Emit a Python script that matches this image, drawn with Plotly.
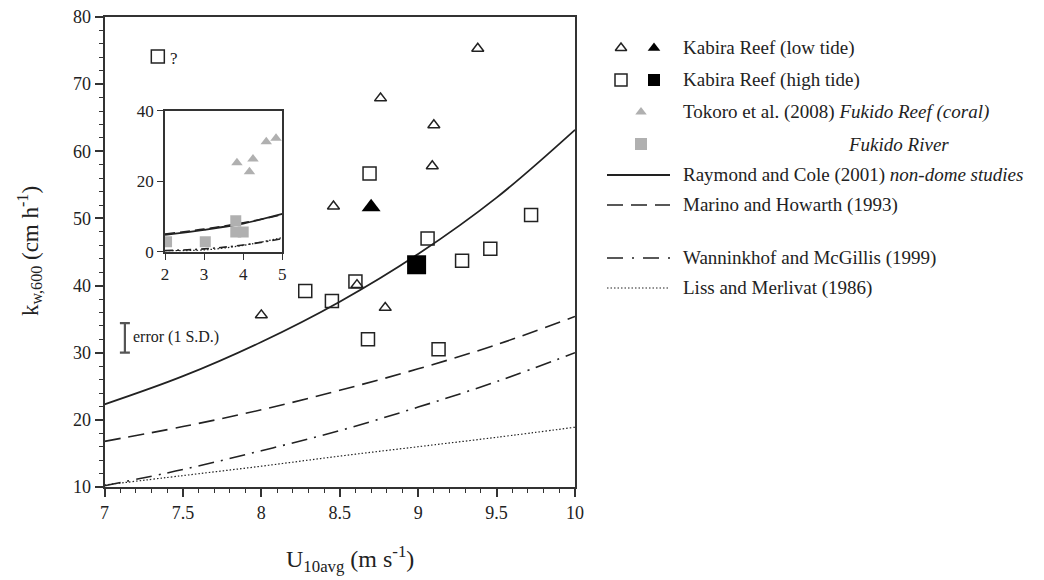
import plotly.graph_objects as go

# ---------------- data ----------------
low_u = [8.00, 8.46, 8.76, 9.38, 9.10, 9.09, 8.61, 8.79]
low_k = [35.6, 51.8, 67.9, 75.3, 63.9, 57.8, 40.1, 36.7]
low_avg_u = [8.70]
low_avg_k = [51.7]

high_u = [7.34, 8.69, 9.72, 9.06, 9.46, 9.28, 8.28, 8.60, 8.45, 8.68, 9.13]
high_k = [74.1, 56.7, 50.5, 47.0, 45.5, 43.7, 39.2, 40.6, 37.7, 32.0, 30.5]
high_avg_u = [8.99]
high_avg_k = [43.1]

u_curve = [7.0, 7.5, 8.0, 8.5, 9.0, 9.5, 10.0]
raymond = [22.3, 26.5, 31.6, 37.6, 44.7, 53.1, 63.2]
marino = [16.8, 19.0, 21.5, 24.4, 27.6, 31.2, 35.4]
wanninkhof = [10.2, 12.6, 15.4, 18.4, 21.9, 25.7, 30.0]
liss = [10.3, 11.7, 13.1, 14.6, 16.0, 17.4, 18.9]

# inset
reef_u = [3.84, 4.16, 4.25, 4.59, 4.84]
reef_k = [25.2, 22.7, 26.3, 31.2, 32.2]
river_u = [2.04, 3.03, 3.81, 3.81, 4.00]
river_k = [2.8, 2.8, 8.8, 5.6, 5.6]
u_inset = [2, 3, 4, 5]
raymond_in = [4.8, 6.2, 8.0, 10.7]
marino_in = [5.0, 6.4, 8.2, 10.5]
wanninkhof_in = [0.3, 0.8, 1.9, 3.7]
liss_in = [0.3, 0.5, 1.8, 4.0]

err_u = [7.13]
err_k = [32.2]
err_sd = [2.2]

x_ticks = [7, 7.5, 8, 8.5, 9, 9.5, 10]
x_ticklabels = ["7", "7.5", "8", "8.5", "9", "9.5", "10"]
y_ticks = [10, 20, 30, 40, 50, 60, 70, 80]
inset_xticks = [2, 3, 4, 5]
inset_yticks = [0, 20, 40]

legend_labels = [
    "Kabira Reef (low tide)",
    "Kabira Reef (high tide)",
    "Tokoro et al. (2008) <i>Fukido Reef (coral)</i>",
    "<i>Fukido River</i>",
    "Raymond and Cole (2001) <i>non-dome studies</i>",
    "Marino and Howarth (1993)",
    "Wanninkhof and McGillis (1999)",
    "Liss and Merlivat (1986)",
]

# ---------------- figure ----------------
W, H = 1044, 580
OFF = 8  # page body margin in the browser
FONT = "Liberation Serif"
INK = "#222222"
GRAY = "#b0b0b0"


def px(x):
    return (x - OFF) / W


def py(y):
    return 1 - (y - OFF) / H


fig = go.Figure()


def line_tr(x, y, dash, width, xa="x", ya="y"):
    return go.Scatter(x=x, y=y, mode="lines", line=dict(color=INK, width=width, dash=dash, shape="spline"),
                      xaxis=xa, yaxis=ya, showlegend=False, hoverinfo="skip")


# main curves
fig.add_trace(line_tr(u_curve, raymond, "solid", 1.8))
fig.add_trace(line_tr(u_curve, marino, "16px,8px", 1.6))
fig.add_trace(line_tr(u_curve, wanninkhof, "16px,7px,2px,7px", 1.6))
fig.add_trace(line_tr(u_curve, liss, "1.5px,2px", 1.2))

# main points
fig.add_trace(go.Scatter(x=low_u, y=low_k, mode="markers",
                         marker=dict(symbol="triangle-up-open", size=10.5, color=INK, line=dict(width=1.5, color=INK)),
                         showlegend=False))
fig.add_trace(go.Scatter(x=high_u, y=high_k, mode="markers",
                         marker=dict(symbol="square-open", size=13, color=INK, line=dict(width=1.5, color=INK)),
                         showlegend=False))
fig.add_trace(go.Scatter(x=low_avg_u, y=low_avg_k, mode="markers",
                         marker=dict(symbol="triangle-up", size=16.5, color="#000"), showlegend=False))
fig.add_trace(go.Scatter(x=high_avg_u, y=high_avg_k, mode="markers",
                         marker=dict(symbol="square", size=19, color="#000"), showlegend=False))

# error bar sample
fig.add_trace(go.Scatter(x=err_u, y=err_k, mode="markers", marker=dict(size=1, opacity=0),
                         error_y=dict(type="data", array=err_sd, visible=True, color="#555", thickness=2.2, width=5),
                         showlegend=False, hoverinfo="skip"))

# inset curves & points
fig.add_trace(line_tr(u_inset, raymond_in, "solid", 1.8, "x2", "y2"))
fig.add_trace(line_tr(u_inset, marino_in, "10px,5px", 1.6, "x2", "y2"))
fig.add_trace(line_tr(u_inset, wanninkhof_in, "8px,4px,2px,4px", 1.6, "x2", "y2"))
fig.add_trace(line_tr(u_inset, liss_in, "1.5px,2px", 1.2, "x2", "y2"))
fig.add_trace(go.Scatter(x=reef_u, y=reef_k, mode="markers", xaxis="x2", yaxis="y2",
                         marker=dict(symbol="triangle-up", size=10, color=GRAY), showlegend=False))
fig.add_trace(go.Scatter(x=river_u, y=river_k, mode="markers", xaxis="x2", yaxis="y2",
                         marker=dict(symbol="square", size=11, color=GRAY), showlegend=False))

# ---------------- legend (pixel overlay axis, screen coordinates) ----------------
row_y = [48, 80, 112, 144, 175, 205, 258, 288]
leg = dict(xaxis="x3", yaxis="y3", showlegend=False, hoverinfo="skip")
fig.add_trace(go.Scatter(x=[621], y=[row_y[0]], mode="markers",
                         marker=dict(symbol="triangle-up-open", size=10, color=INK, line=dict(width=1.5, color=INK)), **leg))
fig.add_trace(go.Scatter(x=[654], y=[row_y[0]], mode="markers",
                         marker=dict(symbol="triangle-up", size=11, color="#000"), **leg))
fig.add_trace(go.Scatter(x=[621], y=[row_y[1]], mode="markers",
                         marker=dict(symbol="square-open", size=12, color=INK, line=dict(width=1.5, color=INK)), **leg))
fig.add_trace(go.Scatter(x=[654], y=[row_y[1]], mode="markers",
                         marker=dict(symbol="square", size=12, color="#000"), **leg))
fig.add_trace(go.Scatter(x=[641], y=[row_y[2]], mode="markers",
                         marker=dict(symbol="triangle-up", size=10, color=GRAY), **leg))
fig.add_trace(go.Scatter(x=[641], y=[row_y[3]], mode="markers",
                         marker=dict(symbol="square", size=12, color=GRAY), **leg))
for ry, dash, w in [(row_y[4], "solid", 1.8), (row_y[5], "16px,8px", 1.6),
                    (row_y[6], "16px,9px,2px,9px", 1.6), (row_y[7], "1.5px,2px", 1.2)]:
    fig.add_trace(go.Scatter(x=[607, 670], y=[ry, ry], mode="lines",
                             line=dict(color=INK, width=w, dash=dash), **leg))

annotations = []
for i, (lab, ry) in enumerate(zip(legend_labels, row_y)):
    x0 = 846 if i == 3 else 681
    annotations.append(dict(x=px(x0), y=py(ry), xref="paper", yref="paper", text=lab, showarrow=False,
                            xanchor="left", yanchor="middle", font=dict(family=FONT, size=19, color=INK)))

annotations.append(dict(x=px(168), y=py(58), xref="paper", yref="paper", text="?", showarrow=False,
                        xanchor="left", yanchor="middle", font=dict(family=FONT, size=17, color=INK)))
annotations.append(dict(x=px(131), y=py(337), xref="paper", yref="paper", text="error (1 S.D.)", showarrow=False,
                        xanchor="left", yanchor="middle", font=dict(family=FONT, size=16, color=INK)))
annotations.append(dict(x=px(350), y=py(559), xref="paper", yref="paper", text="U<sub>10avg</sub> (m s<sup>-1</sup>)",
                        showarrow=False, xanchor="center", yanchor="middle",
                        font=dict(family=FONT, size=24, color=INK)))
annotations.append(dict(x=px(29), y=py(251), xref="paper", yref="paper", text="k<sub>w,600</sub> (cm h<sup>-1</sup>)",
                        showarrow=False, xanchor="center", yanchor="middle", textangle=-90,
                        font=dict(family=FONT, size=23, color=INK)))

axis_common = dict(showgrid=False, zeroline=False, showline=True, linecolor="#333", linewidth=1.8,
                   mirror=True, ticks="outside", tickcolor="#333", tickwidth=1.5, automargin=False,
                   ticklabeloverflow="allow",
                   tickfont=dict(family=FONT, size=18, color=INK))
inset_common = dict(showgrid=False, zeroline=False, showline=True, linecolor="#333", linewidth=1.8, mirror=True,
                    ticks="outside", ticklen=6, tickcolor="#333", tickwidth=1.3, automargin=False,
                    ticklabeloverflow="allow",
                    tickfont=dict(family=FONT, size=17, color=INK))

fig.update_layout(
    width=W, height=H,
    margin=dict(l=0, r=0, t=0, b=0, pad=0, autoexpand=False),
    paper_bgcolor="white", plot_bgcolor="rgba(0,0,0,0)",
    showlegend=False,
    annotations=annotations,
    xaxis=dict(**axis_common, domain=[px(104.5), px(575)], range=[7, 10],
               tickvals=x_ticks, ticktext=x_ticklabels, ticklen=8, anchor="y",
               minor=dict(dtick=0.1, ticklen=4, ticks="outside", tickcolor="#333", tickwidth=1.2)),
    yaxis=dict(**axis_common, domain=[py(487), py(17)], range=[10, 80],
               tickvals=y_ticks, ticklen=8, anchor="x",
               minor=dict(dtick=2, ticklen=4, ticks="outside", tickcolor="#333", tickwidth=1.2)),
    xaxis2=dict(**inset_common, domain=[px(165), px(282.3)], range=[2, 5], tickvals=inset_xticks, anchor="y2"),
    yaxis2=dict(**inset_common, domain=[py(251.7), py(110.7)], range=[0, 40], tickvals=inset_yticks, anchor="x2"),
    xaxis3=dict(visible=False, domain=[0, 1], range=[OFF, W + OFF], anchor="y3", fixedrange=True, automargin=False),
    yaxis3=dict(visible=False, domain=[0, 1], range=[H + OFF, OFF], anchor="x3", fixedrange=True, automargin=False),
)

fig.write_html("out.html")
